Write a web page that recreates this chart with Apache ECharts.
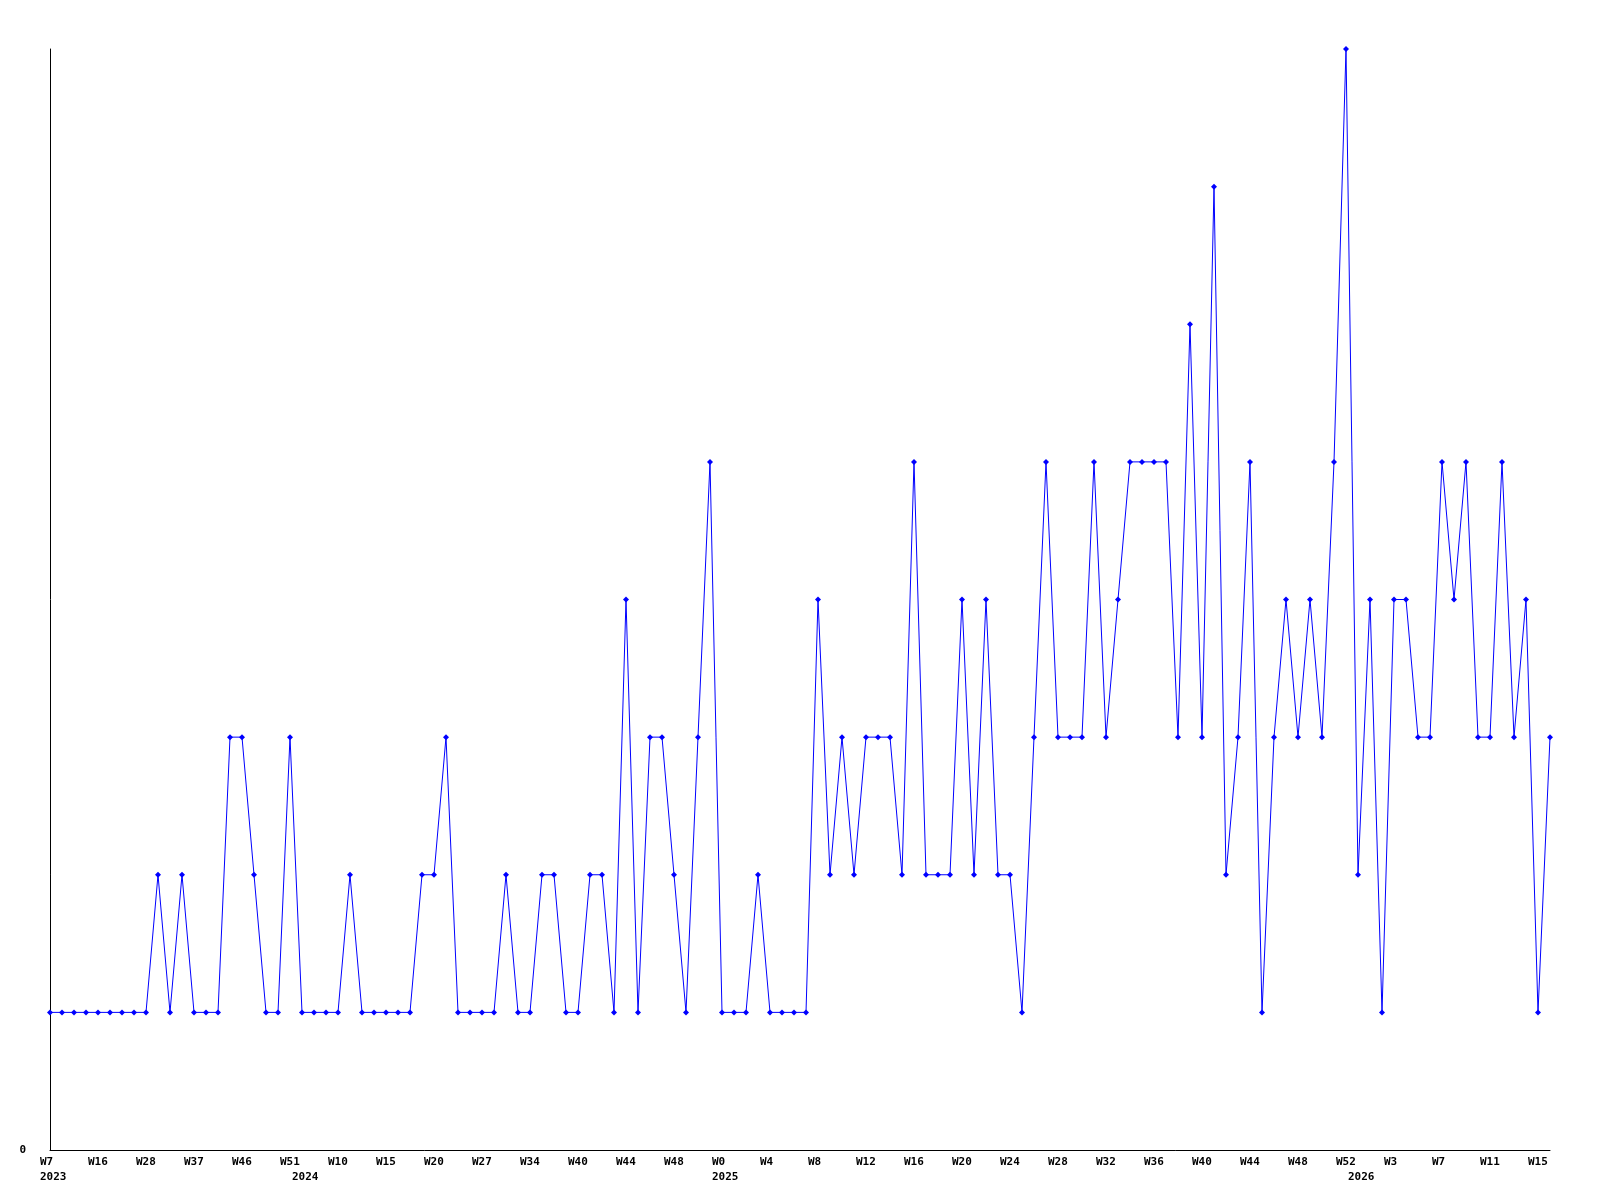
<!DOCTYPE html>
<html>
<head>
<meta charset="utf-8">
<script src="https://cdn.jsdelivr.net/npm/echarts@6/dist/echarts.min.js"></script>
<style>html,body{margin:0;padding:0;background:#fff}#c{width:1600px;height:1200px}</style>
</head>
<body>
<div id="c"></div>
<script>
// Series values (one per week point)
const values = [
  1,1,1,1,1,1,1,1,1,2, 1,2,1,1,1,3,3,2,1,1,
  3,1,1,1,1,2,1,1,1,1, 1,2,2,3,1,1,1,1,2,1,
  1,2,2,1,1,2,2,1,4,1, 3,3,2,1,3,5,1,1,1,2,
  1,1,1,1,4,2,3,2,3,3, 3,2,5,2,2,2,4,2,4,2,
  2,1,3,5,3,3,3,5,3,4, 5,5,5,5,3,6,3,7,2,3,
  5,1,3,4,3,4,3,5,8,2, 4,1,4,4,3,3,5,4,5,3,
  3,5,3,4,1,3
];
// Week tick labels (shown every 4th point)
const weekLabels = ['W7','W16','W28','W37','W46','W51','W10','W15','W20','W27','W34','W40','W44','W48','W0','W4',
                    'W8','W12','W16','W20','W24','W28','W32','W36','W40','W44','W48','W52','W3','W7','W11','W15'];
// Year labels and the point index where each year starts
const yearLabels = ['2023','2024','2025','2026'];
const yearStart = [0, 21, 56, 109];

const categories = values.map((v, i) => String(i));

const chart = echarts.init(document.getElementById('c'), null, {renderer: 'canvas'});
chart.setOption({
  animation: false,
  backgroundColor: '#ffffff',
  grid: {left: 50, right: 50, top: 49, bottom: 50, containLabel: false},
  xAxis: {
    type: 'category',
    data: categories,
    boundaryGap: false,
    axisLine: {lineStyle: {color: '#000', width: 1}},
    axisTick: {show: false},
    splitLine: {show: false},
    axisLabel: {
      interval: 0,
      margin: 5,
      align: 'left',
      padding: [0, 0, 0, -10],
      color: '#000',
      fontFamily: 'DejaVu Sans Mono',
      fontWeight: 'bold',
      fontSize: 11,
      lineHeight: 15,
      formatter: function (val, idx) {
        const w = (idx % 4 === 0 && weekLabels[idx / 4]) ? weekLabels[idx / 4] : '';
        const yi = yearStart.indexOf(idx);
        const y = yi >= 0 ? yearLabels[yi] : '';
        if (!w && !y) return '';
        return w + '\n' + y;
      }
    }
  },
  yAxis: {
    type: 'value',
    min: 0,
    max: 8,
    interval: 8,
    axisLine: {show: true, lineStyle: {color: '#000', width: 1}},
    axisTick: {show: false},
    splitLine: {show: false},
    axisLabel: {
      margin: 24,
      color: '#000',
      fontFamily: 'DejaVu Sans Mono',
      fontWeight: 'bold',
      fontSize: 11,
      formatter: v => (v === 0 ? '0' : '')
    }
  },
  series: [{
    type: 'line',
    data: values,
    symbol: 'diamond',
    symbolSize: 6,
    showSymbol: true,
    lineStyle: {color: '#0000ff', width: 1},
    itemStyle: {color: '#0000ff'},
    emphasis: {disabled: true}
  }]
});
</script>
</body>
</html>
